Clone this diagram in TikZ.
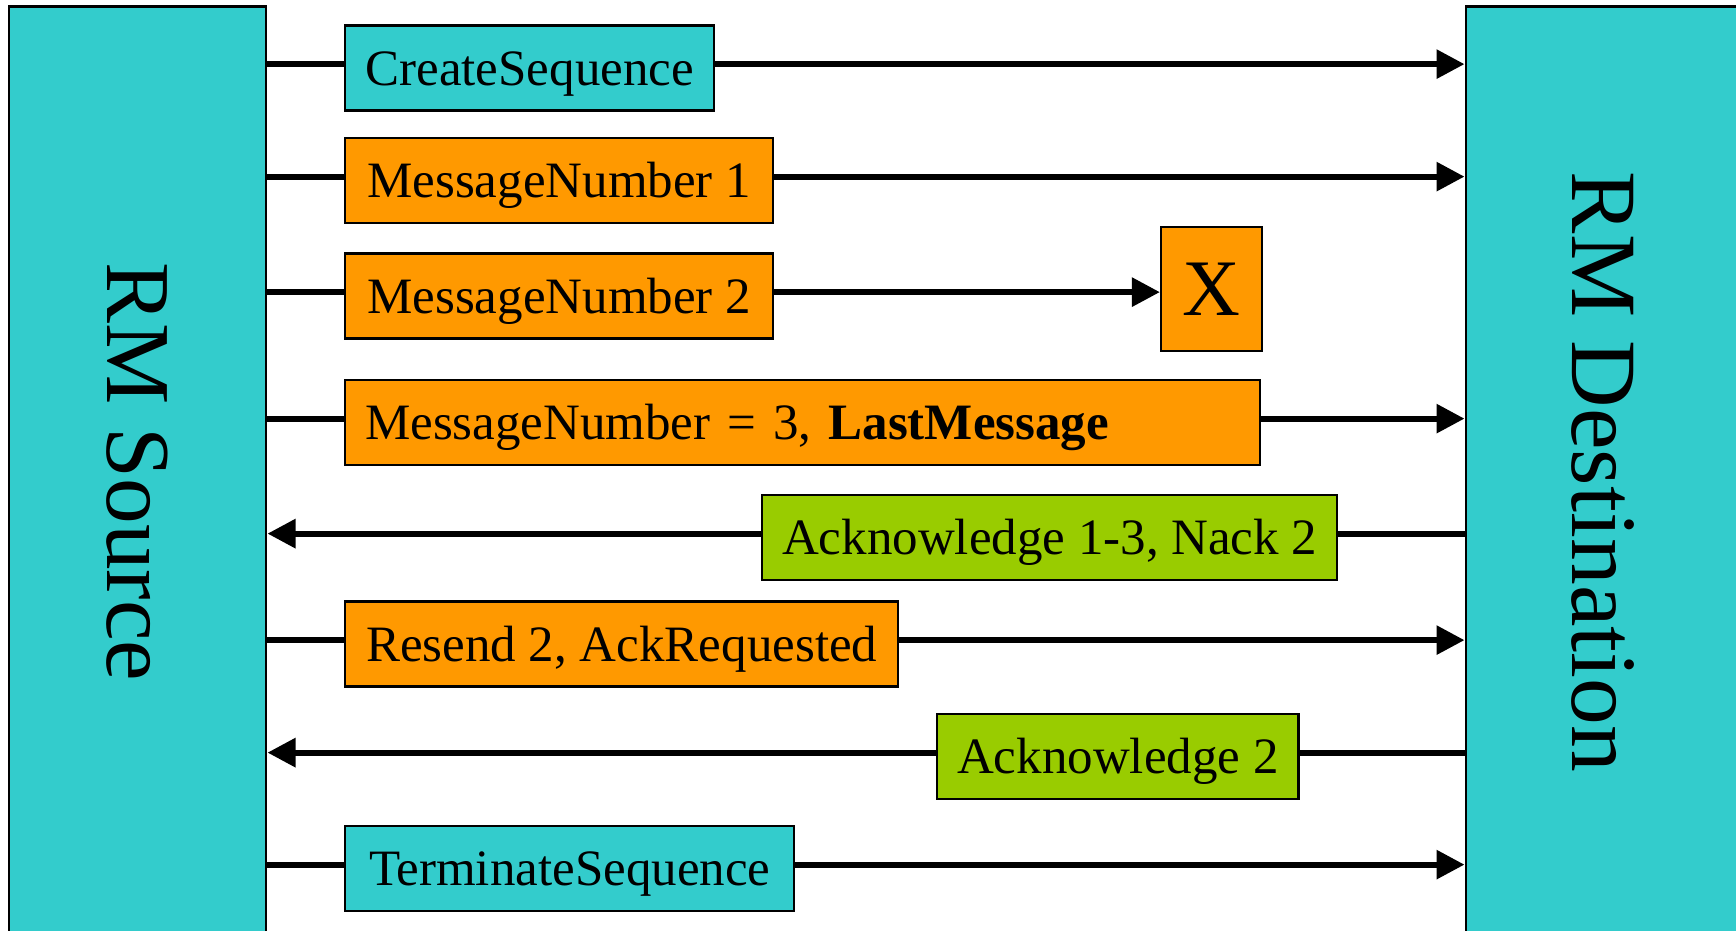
\documentclass[tikz,border=0pt]{standalone}
\usepackage{fontspec}
\setmainfont{Liberation Serif}
\usetikzlibrary{arrows.meta}
\definecolor{rmcyan}{HTML}{33CCCC}
\definecolor{rmorange}{HTML}{FF9900}
\definecolor{rmgreen}{HTML}{99CC00}
\begin{document}
\begin{tikzpicture}[x=0.01cm, y=-0.01cm]
    % Define styles
    \tikzset{
        endpoint/.style={
            draw=black,
            line width=0.8pt,
            fill=rmcyan
        },
        endlabel/.style={
            rotate=-90,
            font=\fontsize{26}{30}\selectfont
        },
        msg/.style={
            draw=black,
            line width=0.6pt,
            anchor=west,
            minimum height=0.85cm,
            text height=0.34cm,
            text depth=0cm,
            inner xsep=0.2cm,
            font=\fontsize{14.5}{17}\selectfont
        },
        wire/.style={
            line width=1.7pt,
            transform canvas={yshift=1.1pt}
        },
        wirehead/.style={
            wire,
            -{Triangle[length=0.28cm, width=0.28cm]}
        }
    }

    % Frame
    \useasboundingbox (0,0) rectangle (1736,931);
    \clip (0,0) rectangle (1736,931);

    % Endpoints
    \node[endpoint, minimum width=2.57cm, minimum height=9.30cm,
        label={[endlabel]center:RM Source}] (source) at (137.5,472) {};
    \node[endpoint, minimum width=2.74cm, minimum height=9.30cm,
        label={[endlabel, font=\fontsize{26.6}{30}\selectfont]center:RM Destination}] (dest) at (1603,472) {};

    % Messages
    \node[msg, fill=rmcyan, minimum width=3.69cm] (create) at (344,68) {CreateSequence};
    \node[msg, fill=rmorange, minimum width=4.28cm] (msgone) at (344,180.5) {MessageNumber 1};
    \node[msg, fill=rmorange, minimum width=4.28cm] (msgtwo) at (344,296) {MessageNumber 2};
    \node[msg, fill=rmorange, minimum width=9.14cm, text width=8.74cm, align=left] (msglast) at (344,422.5)
        {MessageNumber = 3, \textbf{LastMessage}};
    \node[msg, fill=rmgreen, minimum width=5.74cm] (ackall) at (761,537.5) {Acknowledge 1-3, Nack 2};
    \node[msg, fill=rmorange, minimum width=5.53cm] (resend) at (344,644) {Resend 2, AckRequested};
    \node[msg, fill=rmgreen, minimum width=3.59cm] (acktwo) at (936,756.5) {Acknowledge 2};
    \node[msg, fill=rmcyan, minimum width=4.49cm] (terminate) at (344,868.5) {TerminateSequence};

    % Lost message
    \node[draw=black, line width=0.6pt, fill=rmorange, minimum width=1.01cm, minimum height=1.24cm,
        font=\fontsize{22.8}{27}\selectfont] (lost) at (1211.5,289) {X};

    % Source to destination
    \draw[wire] (source.east |- create.west) -- (create.west);
    \draw[wirehead] (create.east) -- (dest.west |- create.east);
    \draw[wire] (source.east |- msgone.west) -- (msgone.west);
    \draw[wirehead] (msgone.east) -- (dest.west |- msgone.east);
    \draw[wire] (source.east |- msgtwo.west) -- (msgtwo.west);
    \draw[wirehead] (msgtwo.east) -- (lost.west |- msgtwo.east);
    \draw[wire] (source.east |- msglast.west) -- (msglast.west);
    \draw[wirehead] (msglast.east) -- (dest.west |- msglast.east);
    \draw[wire] (source.east |- resend.west) -- (resend.west);
    \draw[wirehead] (resend.east) -- (dest.west |- resend.east);
    \draw[wire] (source.east |- terminate.west) -- (terminate.west);
    \draw[wirehead] (terminate.east) -- (dest.west |- terminate.east);

    % Destination to source
    \draw[wire] (dest.west |- ackall.east) -- (ackall.east);
    \draw[wirehead] (ackall.west) -- (source.east |- ackall.west);
    \draw[wire] (dest.west |- acktwo.east) -- (acktwo.east);
    \draw[wirehead] (acktwo.west) -- (source.east |- acktwo.west);
\end{tikzpicture}
\end{document}
